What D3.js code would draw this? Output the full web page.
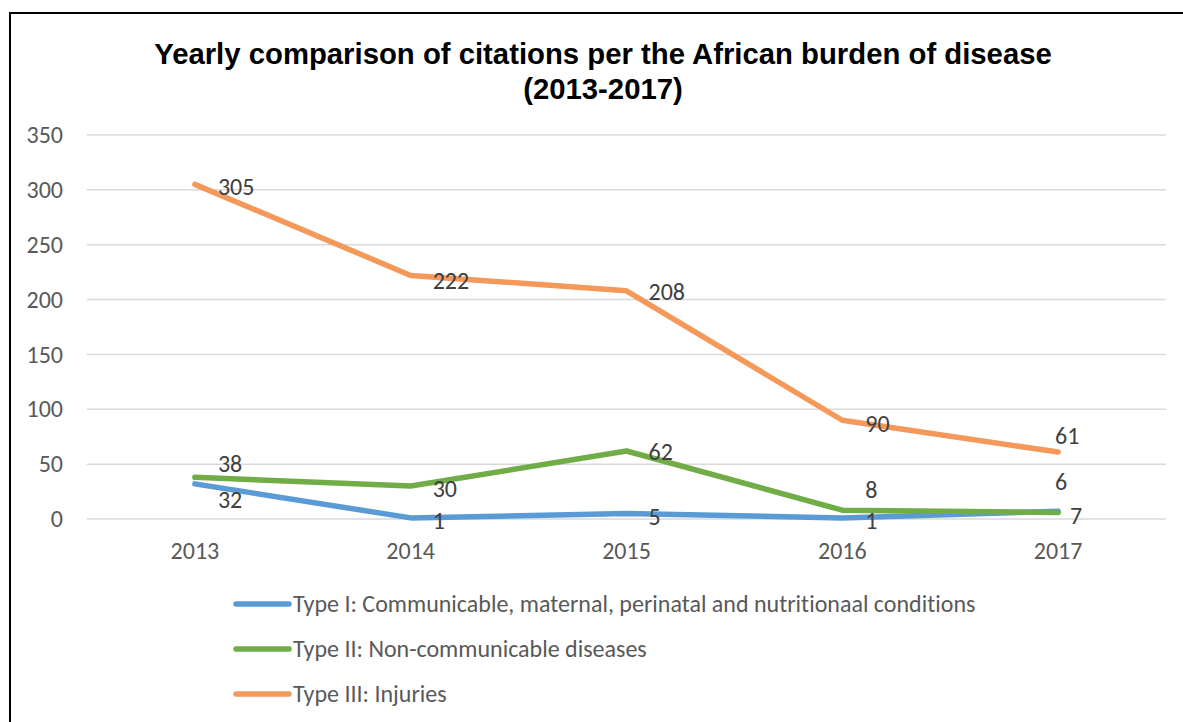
<!DOCTYPE html>
<html><head><meta charset="utf-8">
<script src="https://cdn.jsdelivr.net/npm/d3@7"></script>
<style>body{margin:0;background:#fff;} svg{display:block;} text{font-variant-ligatures:none;}</style>
</head><body>
<svg id="c" width="1183" height="722"></svg>
<script>
const years = ["2013","2014","2015","2016","2017"];
const typeI = [32, 1, 5, 1, 7];
const typeII = [38, 30, 62, 8, 6];
const typeIII = [305, 222, 208, 90, 61];
const yTicks = [0, 50, 100, 150, 200, 250, 300, 350];
const seriesNames = [
  "Type I: Communicable, maternal, perinatal and nutritionaal conditions",
  "Type II: Non-communicable diseases",
  "Type III: Injuries"
];
const colors = ["#5B9BD5", "#70AD47", "#F4995A"];
// label offsets (dx, dy) per point, for placement like the original
const labelOffI = [[23,16],[22,3],[22,3],[23,3],[12,4]];
const labelOffII = [[23,-14],[22,3],[22,1],[23,-21],[-3,-31]];
const labelOffIII = [[23,2],[22,5],[22,1],[23,3],[-3,-16]];

(function(){
const svg = d3.select("#c");
const fontAxis = "Carlito, Calibri, Lato, sans-serif";
const fs = 24;
const pLeft = 87, pRight = 1166, pTop = 135, pBottom = 519;

svg.append("path").attr("d", "M10,722 L10,13 L1183,13").attr("fill","none").attr("stroke","#000").attr("stroke-width",2);

const title = svg.append("text").attr("text-anchor","middle").attr("font-family","Arial, 'Liberation Sans', sans-serif")
  .attr("font-weight","bold").attr("font-size",29.3).attr("fill","#000");
title.append("tspan").attr("x",603).attr("y",63.5).text("Yearly comparison of citations per the African burden of disease");
title.append("tspan").attr("x",603).attr("y",98.5).text("(2013-2017)");

const x = d3.scaleBand().domain(years).range([pLeft, pRight]);
const y = d3.scaleLinear().domain([0, 350]).range([pBottom, pTop]);

svg.append("g").selectAll("line").data(yTicks).join("line")
  .attr("x1", pLeft).attr("x2", pRight).attr("y1", d=>y(d)).attr("y2", d=>y(d))
  .attr("stroke","#d9d9d9").attr("stroke-width",1.5);

const yAxis = svg.append("g").attr("transform", `translate(${pLeft},0)`)
  .call(d3.axisLeft(y).tickValues(yTicks).tickSize(0).tickPadding(24));
yAxis.select(".domain").remove();
yAxis.selectAll("text").attr("font-family", fontAxis).attr("font-size",fs).attr("fill","#595959");

const xAxis = svg.append("g").attr("transform", `translate(0,${pBottom})`)
  .call(d3.axisBottom(x).tickSize(0).tickPadding(23));
xAxis.select(".domain").remove();
xAxis.selectAll("text").attr("font-family", fontAxis).attr("font-size",fs).attr("fill","#595959");

const series = [typeI, typeII, typeIII];
const offs = [labelOffI, labelOffII, labelOffIII];
const line = d3.line().x((d,i)=>x(years[i]) + x.bandwidth()/2).y(d=>y(d));

[0,1,2].forEach(s => {
  svg.append("path").datum(series[s]).attr("d", line)
    .attr("fill","none").attr("stroke", colors[s]).attr("stroke-width",5.5)
    .attr("stroke-linecap","round").attr("stroke-linejoin","round");
});

[0,1,2].forEach(s => {
  svg.append("g").selectAll("text").data(series[s]).join("text")
    .attr("x", (d,i)=> x(years[i]) + x.bandwidth()/2 + offs[s][i][0])
    .attr("y", (d,i)=> y(d) + offs[s][i][1])
    .attr("dy","0.35em")
    .attr("font-family", fontAxis).attr("font-size",fs).attr("fill","#404040")
    .text(d=>d);
});

const lg = svg.append("g").selectAll("g").data(seriesNames).join("g")
  .attr("transform", (d,i)=>`translate(0,${604 + i*45})`);
lg.append("line").attr("x1",236).attr("x2",289).attr("y1",0).attr("y2",0)
  .attr("stroke",(d,i)=>colors[i]).attr("stroke-width",5.5).attr("stroke-linecap","round");
lg.append("text").attr("x",293).attr("y",0).attr("dy","0.35em")
  .attr("font-family", fontAxis).attr("font-size",fs).attr("fill","#595959").text(d=>d);
})();
</script>
</body></html>
